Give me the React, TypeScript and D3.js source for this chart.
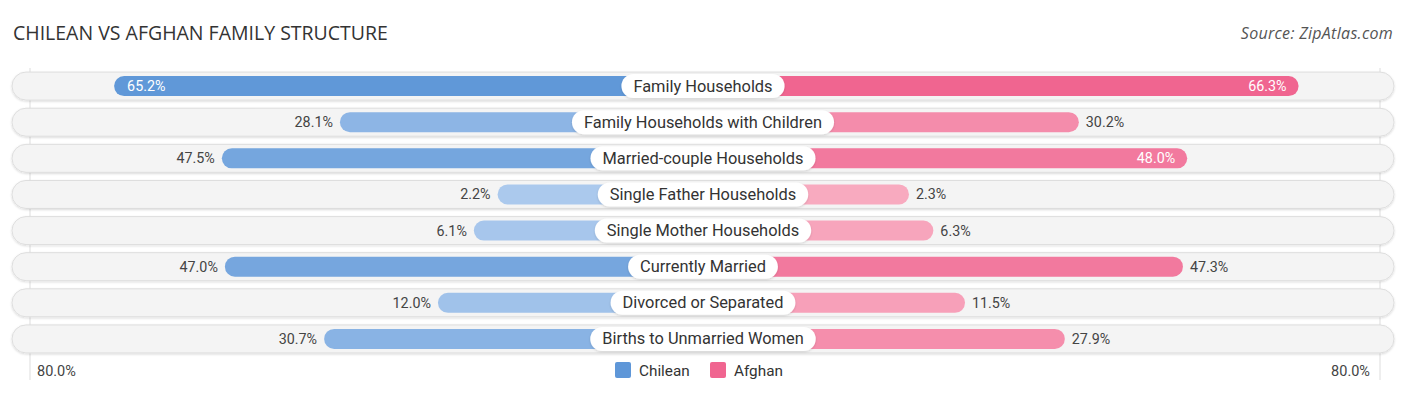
import React from "react";
import * as d3 from "d3";

const categories = [
  "Family Households",
  "Family Households with Children",
  "Married-couple Households",
  "Single Father Households",
  "Single Mother Households",
  "Currently Married",
  "Divorced or Separated",
  "Births to Unmarried Women",
];
const chilean = [65.2, 28.1, 47.5, 2.2, 6.1, 47.0, 12.0, 30.7];
const afghan = [66.3, 30.2, 48.0, 2.3, 6.3, 47.3, 11.5, 27.9];
const chileanInside = [true, false, false, false, false, false, false, false];
const afghanInside = [true, false, true, false, false, false, false, false];
const seriesNames = ["Chilean", "Afghan"];
const axisMax = 80;
const axisLabel = "80.0%";

const W = 1406;
const H = 395;
const CX = 703;

let ctx: CanvasRenderingContext2D | null = null;
function textWidth(s: string, font: string) {
  if (!ctx) ctx = document.createElement("canvas").getContext("2d");
  if (!ctx) return s.length * 8;
  ctx.font = font;
  return ctx.measureText(s).width;
}

export default function App() {
  const len = d3.scaleLinear().domain([0, axisMax]).range([192, 679]);
  const y = d3
    .scaleBand<number>()
    .domain(d3.range(categories.length))
    .range([68, 357])
    .paddingInner(0.2)
    .paddingOuter(0.1);
  const maxV = Math.max(d3.max(chilean)!, d3.max(afghan)!);
  const blue = d3.scaleLinear<string>().domain([0, maxV]).range(["#aecbee", "#5f97d8"]).interpolate(d3.interpolateRgb);
  const pink = d3.scaleLinear<string>().domain([0, maxV]).range(["#f8acc1", "#f06590"]).interpolate(d3.interpolateRgb);
  const rowH = 28;
  const barH = 20;
  const labelFont = "16.4px Roboto";
  const fmt = (v: number) => v.toFixed(1) + "%";

  return (
    <svg width={W} height={H} style={{ position: "absolute", left: 0, top: 0, background: "#fff" }} fontFamily="Roboto, sans-serif">
      <defs>
        <filter id="sh" x="-5%" y="-30%" width="110%" height="160%">
          <feDropShadow dx="0" dy="1" stdDeviation="1" floodColor="#000" floodOpacity="0.15" />
        </filter>
      </defs>
      <text x={13} y={40} fontSize={19.5} fill="#333" fontFamily="'Open Sans', sans-serif">
        CHILEAN VS AFGHAN FAMILY STRUCTURE
      </text>
      <text x={1393} y={39} fontSize={16} fill="#555" textAnchor="end" fontStyle="italic" fontFamily="'Open Sans', sans-serif" letterSpacing={0.3}>
        Source: ZipAtlas.com
      </text>
      {[CX - len(axisMax), CX + len(axisMax)].map((x, i) => (
        <line key={i} x1={x + (i === 0 ? 6 : -2)} x2={x + (i === 0 ? 6 : -2)} y1={68} y2={380} stroke="#ddd" strokeWidth={1} />
      ))}
      {categories.map((c, i) => {
        const cy = y(i)! + y.bandwidth() / 2;
        const lw = len(chilean[i]);
        const rw = len(afghan[i]);
        const tw = textWidth(c, labelFont);
        const pw = tw + 24;
        return (
          <g key={c}>
            <rect x={12} y={cy - rowH / 2} width={W - 24} height={rowH} rx={rowH / 2} fill="#f4f4f4" stroke="#dedede" strokeWidth={1} filter="url(#sh)" />
            <rect x={CX - lw} y={cy - barH / 2} width={lw} height={barH} rx={barH / 2} fill={blue(chilean[i])} />
            <rect x={CX} y={cy - barH / 2} width={rw} height={barH} rx={barH / 2} fill={pink(afghan[i])} />
            <rect x={CX - 12} y={cy - barH / 2} width={12} height={barH} fill={blue(chilean[i])} />
            <rect x={CX} y={cy - barH / 2} width={12} height={barH} fill={pink(afghan[i])} />
            <rect x={CX - pw / 2} y={cy - 12} width={pw} height={24} rx={12} fill="#fff" filter="url(#sh)" />
            <text x={CX} y={cy + 5.5} fontSize={16.4} fill="#333" textAnchor="middle">
              {c}
            </text>
            {chileanInside[i] ? (
              <text x={CX - lw + 13} y={cy + 5} fontSize={14.3} fill="#fff" textAnchor="start">
                {fmt(chilean[i])}
              </text>
            ) : (
              <text x={CX - lw - 7} y={cy + 5} fontSize={14.3} fill="#444" textAnchor="end">
                {fmt(chilean[i])}
              </text>
            )}
            {afghanInside[i] ? (
              <text x={CX + rw - 12} y={cy + 5} fontSize={14.3} fill="#fff" textAnchor="end">
                {fmt(afghan[i])}
              </text>
            ) : (
              <text x={CX + rw + 7} y={cy + 5} fontSize={14.3} fill="#444" textAnchor="start">
                {fmt(afghan[i])}
              </text>
            )}
          </g>
        );
      })}
      <text x={37} y={376} fontSize={14.5} fill="#444">
        {axisLabel}
      </text>
      <text x={1370} y={376} fontSize={14.5} fill="#444" textAnchor="end">
        {axisLabel}
      </text>
      <g>
        <rect x={615} y={362} width={16} height={16} rx={2} fill="#5f97d8" />
        <text x={639} y={376} fontSize={15.3} fill="#333">
          {seriesNames[0]}
        </text>
        <rect x={710} y={362} width={16} height={16} rx={2} fill="#f06590" />
        <text x={734} y={376} fontSize={15.3} fill="#333">
          {seriesNames[1]}
        </text>
      </g>
    </svg>
  );
}
